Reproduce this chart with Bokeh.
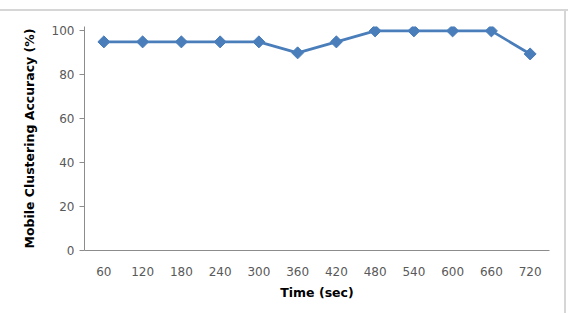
import math
from bokeh.plotting import figure
from bokeh.layouts import column
from bokeh.embed import file_html
from bokeh.resources import INLINE
from bokeh.models import FixedTicker, ColumnDataSource, Div

time_labels = ["60", "120", "180", "240", "300", "360", "420", "480", "540", "600", "660", "720"]
accuracy = [95, 95, 95, 95, 95, 90, 95, 100, 100, 100, 100, 89.5]

src = ColumnDataSource(dict(t=time_labels, acc=accuracy))

p = figure(x_range=time_labels, y_range=(0, 102), width=566, height=302,
           output_backend="svg", toolbar_location=None,
           min_border_left=84, min_border_right=17, min_border_top=15, min_border_bottom=63)
p.styles = {"border-right": "2px solid #d6d6d6"}
p.outline_line_color = None
p.grid.grid_line_color = None
p.background_fill_color = "white"

p.line("t", "acc", source=src, line_color="#4a7ebb", line_width=2.75)
p.scatter("t", "acc", source=src, marker="square", angle=math.pi / 4, size=8.5,
          fill_color="#4a7ebb", line_color="#4a7ebb")

font = "DejaVu Sans"
p.yaxis.ticker = FixedTicker(ticks=[0, 20, 40, 60, 80, 100])
for ax in (p.xaxis[0], p.yaxis[0]):
    ax.axis_line_color = "#8c8c8c"
    ax.major_label_text_font = font
    ax.major_label_text_font_size = "12px"
    ax.major_label_text_color = "#595959"
    ax.axis_label_text_font = font
    ax.axis_label_text_font_style = "bold"
    ax.axis_label_text_font_size = "12.5px"
    ax.axis_label_text_color = "#000000"
    ax.minor_tick_line_color = None
p.yaxis.major_tick_line_color = "#8c8c8c"
p.yaxis.major_tick_out = 5
p.yaxis.major_tick_in = 0
p.xaxis.major_tick_line_color = None
p.xaxis.major_label_standoff = 10
p.yaxis.major_label_standoff = 5
p.xaxis.axis_label = "Time (sec)"
p.yaxis.axis_label = "Mobile Clustering Accuracy (%)"
p.xaxis.axis_label_standoff = 6
p.yaxis.axis_label_standoff = 12

top = Div(text="", width=568, height=2, margin=(9, 0, 0, 0),
          styles={"background-color": "#d6d6d6"})
layout = column(top, p, spacing=0)

open("out.html", "w").write(file_html(layout, INLINE))
